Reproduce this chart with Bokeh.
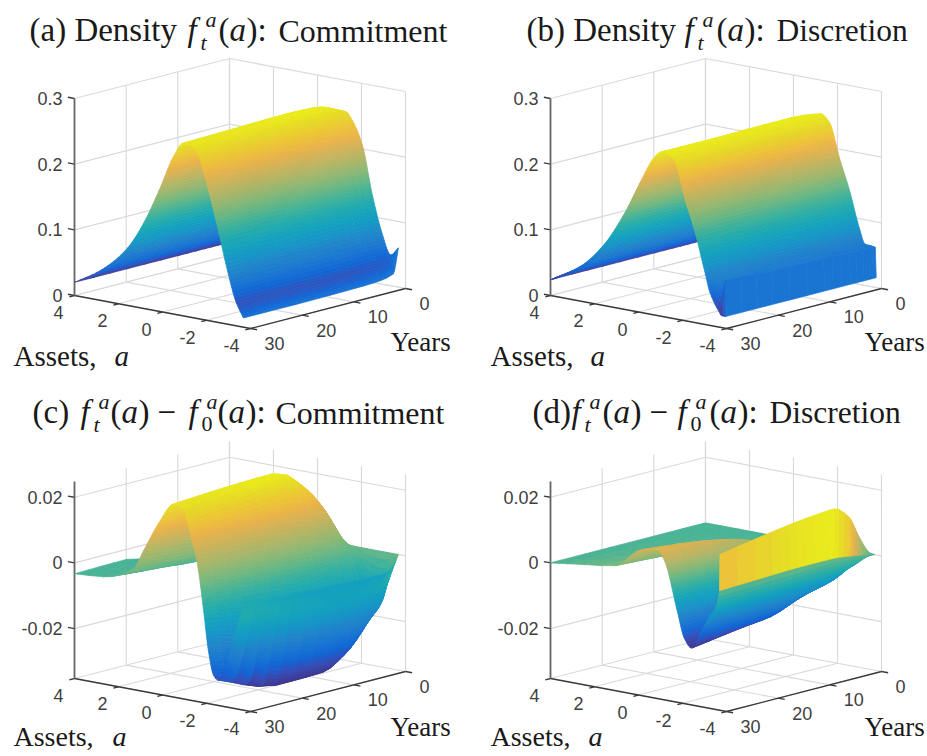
import math
from bokeh.plotting import figure
from bokeh.layouts import column, row
from bokeh.models import Range1d, ColumnDataSource
from bokeh.embed import file_html
from bokeh.resources import INLINE
from bokeh.core.properties import value

# ---------- data ----------
YEARS_TICKS = [0, 10, 20, 30]
ASSET_TICKS = [-4, -2, 0, 2, 4]

# (a) density, commitment
A_A = [4, 2.8, 1.6, 0.8, 0.1, -0.5, -0.95, -1.3, -1.6, -2.05, -2.5, -2.95, -3.32, -3.68]
T_A = [0, 1, 5, 10, 20, 30]
Z_A = [
    [.020, .045, .084, .130, .180, .222, .247, .252, .240, .205, .132, .076, .047, .060],
    [.020, .045, .085, .132, .185, .230, .255, .256, .243, .205, .135, .080, .042, .022],
    [.020, .046, .086, .135, .190, .240, .266, .268, .250, .206, .146, .084, .040, .016],
    [.020, .046, .087, .136, .191, .243, .267, .266, .252, .206, .147, .084, .038, .015],
    [.020, .046, .087, .135, .190, .242, .265, .264, .250, .205, .146, .083, .038, .014],
    [.020, .046, .087, .134, .189, .240, .263, .262, .250, .203, .145, .082, .038, .014],
]
EDGE_C_A = [.060, .062, .062, .062, .062, .060]

# (b) density, discretion
A_B = [4, 2.6, 1.54, 0.64, -0.12, -0.72, -1.03, -1.27, -1.64, -2.09, -2.55, -3.0, -3.25, -3.72, -3.76]
T_B = [0, 1, 5, 10, 20, 29, 30]
Z_B = [
    [.024, .054, .092, .140, .190, .228, .240, .249, .238, .187, .140, .085, .063, .061, .015],
    [.024, .054, .093, .143, .195, .236, .248, .250, .240, .187, .140, .085, .063, .061, .015],
    [.024, .054, .094, .146, .201, .241, .251, .252, .241, .188, .140, .085, .064, .062, .015],
    [.024, .054, .094, .146, .201, .241, .251, .252, .241, .188, .140, .085, .065, .064, .015],
    [.024, .054, .094, .146, .201, .240, .250, .251, .241, .187, .140, .085, .067, .066, .015],
    [.024, .054, .094, .146, .201, .240, .250, .250, .241, .187, .140, .085, .070, .070, .015],
    [.024, .054, .094, .146, .201, .240, .250, .250, .241, .187, .140, .082, .050, .020, .018],
]
EDGE_C_B = [.058, .058, .058, .058, .058, .058, .018]

# (c) difference, commitment
A_C = [4, 2.7, 1.3, 0.86, 0.1, -0.5, -0.91, -1.27, -1.59, -1.87, -2.09, -2.32, -2.5, -2.8, -3.1, -3.4, -3.68]
T_C = [0, 1, 3, 7, 11, 20, 30]
Z_C = [
    [0] * 17,
    [-.0020, -.0015, -.0003, .0008, .0030, .0040, .0045, .0030, .0005, -.0030, -.0070, -.0110, -.0130, -.0150, -.0150, -.0090, -.0030],
    [-.0060, -.0040, -.0008, .0020, .0080, .0110, .0119, .0090, .0020, -.0060, -.0130, -.0190, -.0215, -.0215, -.0190, -.0110, -.0048],
    [-.0074, -.0050, -.0008, .0040, .0140, .0195, .0205, .0150, .0040, -.0090, -.0200, -.0270, -.0285, -.0290, -.0250, -.0140, -.0048],
    [-.0072, -.0050, -.0005, .0055, .0180, .0250, .0254, .0170, .0055, -.0100, -.0230, -.0300, -.0320, -.0325, -.0270, -.0150, -.0045],
    [-.0030, -.0035, .0005, .0065, .0180, .0245, .0240, .0160, .0060, -.0090, -.0230, -.0310, -.0330, -.0328, -.0250, -.0130, -.0040],
    [-.0033, -.0026, .0018, .0077, .0178, .0235, .0230, .0152, .0064, -.0073, -.0193, -.0263, -.0275, -.0240, -.0170, -.0100, -.0034],
]
EDGE_C_C = [0, -.006, -.012, -.013, -.013, -.012, -.008]

# (d) difference, discretion
A_D = [4, 2.5, 1.09, -0.14, -0.86, -1.18, -1.76, -2.08, -2.4, -2.8, -3.2, -3.68, -3.7]
T_D = [0, 1, 3, 5, 8, 10, 15, 20, 30]
Z_D = [
    [0] * 13,
    [0, 0, .0001, .0002, .0003, .0001, -.0010, -.0018, -.0020, -.0018, -.0012, .0003, .0010],
    [0, .0001, .0004, .0010, .0012, .0005, -.0030, -.0055, -.0065, -.0058, -.0035, .0010, .0065],
    [0, .0002, .0006, .0020, .0025, .0015, -.0040, -.0075, -.0085, -.0075, -.0045, .0015, .0135],
    [0, .0003, .0008, .0030, .0035, .0028, -.0046, -.0090, -.0100, -.0087, -.0050, .0021, .0172],
    [0, .0004, .0010, .0040, .0045, .0035, -.0050, -.0100, -.0112, -.0095, -.0055, .0021, .0170],
    [0, .0006, .0016, .0060, .0070, .0050, -.0062, -.0125, -.0145, -.0118, -.0066, .0021, .0162],
    [0, .0008, .0020, .0075, .0085, .0060, -.0070, -.0135, -.0155, -.0125, -.0072, .0018, .0150],
    [0, .0014, .0028, .0092, .0101, .0072, -.0074, -.0153, -.0179, -.0129, -.0074, .0012, .0123],
]
EDGE_C_D = [0, .0010, .0065, .0135, .0172, .0170, .0162, .0150, .0123]

# MATLAB parula colour map anchors
PARULA = [
    (.2081, .1663, .5292), (.1959, .2645, .7279), (.0117, .3875, .8820), (.0498, .4586, .8641),
    (.0793, .5200, .8312), (.0343, .5966, .8199), (.0228, .6535, .7768), (.0843, .6928, .7062),
    (.2178, .7250, .6193), (.3953, .7459, .5244), (.5709, .7485, .4494), (.7184, .7411, .3905),
    (.8507, .7299, .3360), (.9739, .7314, .2666), (.9880, .8066, .1794), (.9589, .8949, .1132),
    (.9763, .9831, .0538),
]
SCAN_GREY = 0.12  # the scanned reference is slightly washed out

FONT_SERIF = "Liberation Serif"
FONT_SANS = "Liberation Sans"


def parula(v):
    v = max(0.0, min(1.0, v)) * (len(PARULA) - 1)
    i = min(int(v), len(PARULA) - 2)
    w = v - i
    c = [PARULA[i][k] * (1 - w) + PARULA[i + 1][k] * w for k in range(3)]
    c = [q * (1 - SCAN_GREY) + 0.5 * SCAN_GREY for q in c]
    return "#%02x%02x%02x" % tuple(int(round(255 * q)) for q in c)


class Box:
    """Orthographic view of the MATLAB axes box, in page pixels."""
    DX_A, DY_A = 176.0, 33.0   # a from 4 to -4
    DX_T, DY_T = 155.0, -40.0  # t from 30 to 0
    HEIGHT = 197.0

    def __init__(self, x0, y0, zmin, zmax):
        self.x0, self.y0, self.zmin, self.zmax = x0, y0, zmin, zmax

    def __call__(self, a, t, z):
        f = (4 - a) / 8.0
        s = (30 - t) / 30.0
        return (self.x0 + self.DX_A * f + self.DX_T * s,
                self.y0 + self.DY_A * f + self.DY_T * s - (z - self.zmin) / (self.zmax - self.zmin) * self.HEIGHT)


def make_fig(x0, y0, w, h):
    p = figure(width=w, height=h, output_backend="svg", toolbar_location=None,
               x_range=Range1d(x0, x0 + w), y_range=Range1d(y0 + h, y0),
               min_border=0, outline_line_color=None, background_fill_color="white")
    p.xaxis.visible = False
    p.yaxis.visible = False
    p.xgrid.visible = False
    p.ygrid.visible = False
    return p


def draw_box(p, B, zticks, zlabels):
    zlo, zhi = B.zmin, B.zmax
    segs = []
    for a in ASSET_TICKS:
        segs.append([B(a, 30, zlo), B(a, 0, zlo)])
        segs.append([B(a, 0, zlo), B(a, 0, zhi)])
    for t in YEARS_TICKS:
        segs.append([B(4, t, zlo), B(-4, t, zlo)])
        segs.append([B(4, t, zlo), B(4, t, zhi)])
    for z in zticks:
        segs.append([B(4, 30, z), B(4, 0, z)])
        segs.append([B(4, 0, z), B(-4, 0, z)])
    p.multi_line([[q[0] for q in s] for s in segs], [[q[1] for q in s] for s in segs],
                 line_color="#dadada", line_width=1.2)
    ax = [[B(4, 30, zlo), B(-4, 30, zlo)], [B(-4, 30, zlo), B(-4, 0, zlo)]]
    for a in ASSET_TICKS:
        ax.append([B(a, 30, zlo), B(a, 31, zlo)])
    for t in YEARS_TICKS:
        ax.append([B(-4, t, zlo), B(-4.3, t, zlo)])
    for z in zticks:
        ax.append([B(4, 30, z), B(4.3, 30, z)])
    p.multi_line([[q[0] for q in s] for s in ax], [[q[1] for q in s] for s in ax],
                 line_color="#3a3a3a", line_width=1.3)
    za = B(4, 30, zlo), B(4, 30, zhi)
    p.line([za[0][0], za[1][0]], [za[0][1], za[1][1]], line_color="#666666", line_width=1.8)
    xs, ys, tx = [], [], []
    for a in ASSET_TICKS:
        q = B(a, 30, zlo)
        xs.append(q[0] - 11); ys.append(q[1] + 17); tx.append(str(a))
    p.text(xs, ys, tx, text_font=value(FONT_SANS), text_font_size="18px", text_color="#404040",
           text_align="right", text_baseline="middle")
    xs, ys, tx = [], [], []
    for t in YEARS_TICKS:
        q = B(-4, t, zlo)
        xs.append(q[0] + 14); ys.append(q[1] + 15); tx.append(str(t))
    p.text(xs, ys, tx, text_font=value(FONT_SANS), text_font_size="18px", text_color="#404040",
           text_align="left", text_baseline="middle")
    xs, ys = [], []
    for z in zticks:
        q = B(4, 30, z)
        xs.append(q[0] - 12); ys.append(q[1])
    p.text(xs, ys, zlabels, text_font=value(FONT_SANS), text_font_size="18px", text_color="#404040",
           text_align="right", text_baseline="middle")


def slopes(xs, ys):
    """Monotone (Fritsch-Butland) slopes, for a smooth drawing of the read values."""
    n = len(xs)
    h = [xs[i + 1] - xs[i] for i in range(n - 1)]
    d = [(ys[i + 1] - ys[i]) / h[i] for i in range(n - 1)]
    m = [d[0]] + [0.0] * (n - 2) + [d[-1]]
    for i in range(1, n - 1):
        if d[i - 1] * d[i] > 0:
            w1, w2 = 2 * h[i] + h[i - 1], h[i] + 2 * h[i - 1]
            m[i] = (w1 + w2) / (w1 / d[i - 1] + w2 / d[i])
    return h, m


def hermite(y0, y1, m0, m1, h, u):
    return ((2 * u ** 3 - 3 * u ** 2 + 1) * y0 + (u ** 3 - 2 * u ** 2 + u) * h * m0
            + (-2 * u ** 3 + 3 * u ** 2) * y1 + (u ** 3 - u ** 2) * h * m1)


def draw_surface(p, B, agrid, tgrid, rows, edge_c=None, flat_edge=False):
    allz = [v for r in rows for v in r]
    lo, hi = min(allz), max(allz)
    rng = hi - lo
    na, nt = len(agrid), len(tgrid)
    t_pos = []
    for j in range(nt - 1):
        dz = max(abs(rows[j + 1][i] - rows[j][i]) for i in range(na))
        n = max(3, math.ceil(dz / rng * 24))
        t_pos += [(j, k / n) for k in range(n)]
    t_pos.append((nt - 2, 1.0))
    col_sl = []
    for i in range(na):
        col_sl.append(slopes(tgrid, [rows[j][i] for j in range(nt)]))
    fine_t, fine_rows, fine_edge = [], [], []
    for j, u in t_pos:
        fine_t.append(tgrid[j] + (tgrid[j + 1] - tgrid[j]) * u)
        r = []
        for i in range(na):
            h, m = col_sl[i]
            r.append(hermite(rows[j][i], rows[j + 1][i], m[j], m[j + 1], h[j], u))
        fine_rows.append(r)
        if edge_c is not None:
            fine_edge.append(edge_c[j] * (1 - u) + edge_c[j + 1] * u)
    a_pos = []
    for i in range(na - 1):
        last = i == na - 2
        if last and flat_edge:
            n = 1
        else:
            dz = max(abs(r[i + 1] - r[i]) for r in fine_rows)
            n = max(2, math.ceil(dz / rng * 44))
            if last and edge_c is not None:
                n = max(n, 8)
        a_pos += [(i, k / n) for k in range(n)]
    a_pos.append((na - 2, 1.0))
    fine_a = [agrid[i] + (agrid[i + 1] - agrid[i]) * u for i, u in a_pos]
    grid = []
    for r in fine_rows:
        h, m = slopes(agrid, r) if any(abs(v) > 1e-12 for v in r) else ([agrid[i + 1] - agrid[i] for i in range(na - 1)], [0.0] * na)
        grid.append([hermite(r[i], r[i + 1], m[i], m[i + 1], h[i], u) for i, u in a_pos])
    xs, ys, cs = [], [], []
    for k in range(len(fine_t) - 1):
        z0, z1 = grid[k], grid[k + 1]
        for m in range(len(fine_a) - 1):
            pts = [B(fine_a[m], fine_t[k], z0[m]), B(fine_a[m + 1], fine_t[k], z0[m + 1]),
                   B(fine_a[m + 1], fine_t[k + 1], z1[m + 1]), B(fine_a[m], fine_t[k + 1], z1[m])]
            c = (z0[m] + z0[m + 1] + z1[m] + z1[m + 1]) / 4
            i, u = a_pos[m]
            if edge_c is not None and i == na - 2:
                ec = (fine_edge[k] + fine_edge[k + 1]) / 2
                c = ec if flat_edge else c * (1 - u) + ec * u
            xs.append([q[0] for q in pts])
            ys.append([q[1] for q in pts])
            cs.append(parula((c - lo) / rng))
    src = ColumnDataSource(dict(xs=xs, ys=ys, c=cs))
    p.patches("xs", "ys", source=src, fill_color="c", line_color="c", line_width=0.7)


def label(p, x, y, s, size=33, style="normal"):
    # Bokeh's alphabetic baseline sits about a third of the size lower
    p.text([x], [y - 0.34 * size], [s], text_font=value(FONT_SERIF), text_font_size=f"{size}px",
           text_color="#1a1a1a", text_font_style=style, text_align="left", text_baseline="alphabetic")


def f_term(p, x, y, sub, sup_dx=18, sub_dx=13):
    label(p, x, y, "f", 33, "italic")
    label(p, x + sup_dx, y - 15, "a", 22, "italic")
    label(p, x + sub_dx, y + 8, sub, 22, "italic" if sub == "t" else "normal")


def call_a(p, x, y, tail):
    label(p, x, y, "(")
    label(p, x + 11, y, "a", 33, "italic")
    label(p, x + 28, y, tail)


def axis_titles(p, ax, ay, aix, yx, yy, size=29):
    label(p, ax, ay, "Assets,", size)
    label(p, aix, ay, "a", size, "italic")
    label(p, yx, yy, "Years", 27)


# ---------- panels ----------
p_a = make_fig(0, 0, 484, 378)
B_a = Box(74, 295, 0, 0.3)
draw_box(p_a, B_a, [0, .1, .2, .3], ["0", "0.1", "0.2", "0.3"])
draw_surface(p_a, B_a, A_A, T_A, Z_A, EDGE_C_A, False)
label(p_a, 29, 41, "(a) Density")
f_term(p_a, 187, 41, "t")
call_a(p_a, 218, 41, "):")
label(p_a, 278, 41, "Commitment", 32)
axis_titles(p_a, 13, 365, 114, 390, 351)

p_b = make_fig(484, 0, 443, 378)
B_b = Box(550, 295, 0, 0.3)
draw_box(p_b, B_b, [0, .1, .2, .3], ["0", "0.1", "0.2", "0.3"])
draw_surface(p_b, B_b, A_B, T_B, Z_B, EDGE_C_B, True)
label(p_b, 526, 41, "(b) Density")
f_term(p_b, 684, 41, "t")
call_a(p_b, 716, 41, "):")
label(p_b, 776, 41, "Discretion", 31.5)
axis_titles(p_b, 490, 365, 590, 864, 351)

p_c = make_fig(0, 378, 484, 378)
B_c = Box(74, 678, -0.0352, 0.0248)
draw_box(p_c, B_c, [-.02, 0, .02], ["-0.02", "0", "0.02"])
draw_surface(p_c, B_c, A_C, T_C, Z_C, EDGE_C_C, False)
label(p_c, 32, 423, "(c)")
f_term(p_c, 80, 423, "t")
call_a(p_c, 110, 423, ")")
label(p_c, 157, 423, "\u2212")
f_term(p_c, 188, 423, "0")
call_a(p_c, 217, 423, "):")
label(p_c, 275, 423, "Commitment", 32)
axis_titles(p_c, 13, 746, 112, 390, 736, 28)

p_d = make_fig(484, 378, 443, 378)
B_d = Box(550, 678, -0.0352, 0.0248)
draw_box(p_d, B_d, [-.02, 0, .02], ["-0.02", "0", "0.02"])
draw_surface(p_d, B_d, A_D, T_D, Z_D, EDGE_C_D, True)
label(p_d, 532, 423, "(d)")
f_term(p_d, 571, 423, "t")
call_a(p_d, 602, 423, ")")
label(p_d, 649, 423, "\u2212")
f_term(p_d, 677, 423, "0")
call_a(p_d, 709, 423, "):")
label(p_d, 769, 423, "Discretion", 31.5)
axis_titles(p_d, 490, 746, 588, 864, 736, 28)

layout = column(row(p_a, p_b, spacing=0), row(p_c, p_d, spacing=0), spacing=0)
open("out.html", "w").write(file_html(layout, INLINE))
